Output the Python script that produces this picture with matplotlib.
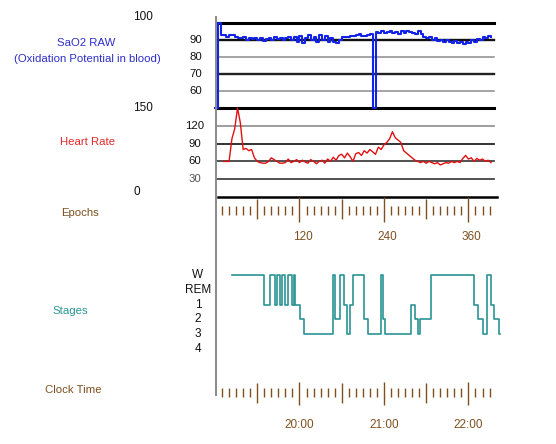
import numpy as np
import matplotlib
matplotlib.use("Agg")
import matplotlib.pyplot as plt
from matplotlib.lines import Line2D
from matplotlib.transforms import offset_copy

# ---------------- data ----------------
sao2_first_epoch = 0
sao2_epoch_step = 4
sao2_values = [50, 100, 93, 93, 92, 93, 93, 92, 91, 91,
               92, 90, 91, 90.5, 91, 90, 91, 89.5, 90.5, 91,
               90, 91.5, 90.5, 91, 90, 91, 91.5, 90, 92, 89,
               92.5, 88.5, 91, 93, 90, 92, 89, 93, 90, 92.5,
               89, 91, 89, 88.5, 90, 91.5, 91.5, 92, 92.5, 92.5,
               93, 93.5, 92.5, 92.5, 93, 93.5, 50, 94.5, 94, 95.5,
               94, 94.5, 95.5, 94, 94.5, 93.5, 95, 94, 95.5, 94.5,
               94, 93.5, 95, 93.5, 92, 91, 92, 90, 91, 89.5,
               90, 89, 90, 89, 88.5, 89.5, 88, 89, 87.5, 89,
               88, 90, 89, 90.5, 90, 91.5, 91, 92.5, 92]

hr_first_epoch = 12
hr_epoch_step = 4
hr_values = [60, 60, 60, 98, 115, 150, 125, 80, 82, 78,
             80, 66, 60, 58, 57, 57, 60, 66, 63, 60,
             57, 57, 58, 64, 58, 60, 63, 58, 62, 59,
             57, 63, 60, 56, 60, 62, 57, 64, 60, 67,
             62, 70, 72, 66, 74, 68, 60, 73, 75, 70,
             78, 74, 80, 76, 72, 84, 80, 88, 92, 98,
             110, 100, 96, 92, 78, 74, 70, 66, 62, 60,
             58, 60, 57, 60, 58, 56, 58, 54, 56, 58,
             57, 60, 58, 60, 58, 65, 70, 64, 66, 60,
             65, 62, 64, 60, 62, 58]

stage_names = ["W", "REM", "1", "2", "3", "4"]
stage_change_epochs = [24, 70, 78, 85, 88, 92, 95, 100, 103, 109,
                       112, 114, 121, 126, 168, 171, 177, 183, 188, 192,
                       196, 212, 217, 236, 239, 242, 279, 284, 289, 291,
                       307, 368, 373, 381, 387, 392, 396, 403]
stage_codes = [0, 2, 0, 2, 0, 2, 0, 2, 0, 2,
               0, 2, 3, 4, 0, 3, 0, 2, 4, 2,
               0, 3, 4, 0, 3, 4, 2, 3, 4, 3,
               0, 2, 3, 4, 0, 2, 3, 4]
stage_last_epoch = 405

sao2_ticks = [90, 80, 70, 60]
hr_ticks = [120, 90, 60, 30]
epoch_labels = [120, 240, 360]
clock_labels = ["20:00", "21:00", "22:00"]

# ---------------- figure ----------------
W, H, DPI = 556, 444, 100
plt.rcParams['font.family'] = ['Liberation Sans', 'DejaVu Sans']
plt.rcParams['font.size'] = 8.2
fig = plt.figure(figsize=(W / DPI, H / DPI), dpi=DPI)
fig.patch.set_facecolor('white')

X0, X1 = 215, 505
EPX = 0.704
XLIM = (0, (X1 - X0) / EPX)


def add_axes(ytop, ybot):
    ax = fig.add_axes([X0 / W, 1 - ybot / H, (X1 - X0) / W, (ybot - ytop) / H])
    ax.set_xlim(*XLIM)
    ax.axis('off')
    return ax


def ftext(x, y, s, **kw):
    kw.setdefault('ha', 'center')
    kw.setdefault('va', 'center')
    fig.text(x / W, 1 - y / H, s, **kw)


def frac(px):
    return (px - X0) / (X1 - X0)


BLUE_T = '#2e2ec8'
RED_T = '#e02828'
BROWN = '#7e5020'
TEAL = '#2a9494'

# left grey vertical rule
fig.add_artist(Line2D([216 / W, 216 / W], [1 - 17 / H, 1 - 395 / H],
                      transform=fig.transFigure, color='#8a8a8a', lw=1.4))

# ---- SaO2 panel ----
ax1 = add_axes(23, 108)
ax1.set_ylim(50, 100)
grid1 = [(100, '#000000', 2.2), (90, '#111111', 1.7), (80, '#8c8c8c', 1.1),
         (70, '#222222', 1.7), (60, '#8c8c8c', 1.1), (50, '#000000', 2.2)]
for yv, c, lw in grid1:
    ax1.axhline(yv, xmin=frac(217), xmax=frac(494), color=c, lw=lw, clip_on=False, zorder=1)
sao2_epochs = sao2_first_epoch + sao2_epoch_step * np.arange(len(sao2_values))
ax1.plot(sao2_epochs, sao2_values, drawstyle='steps-post', color='#1222e6',
         lw=1.5, clip_on=False, zorder=3)
for t in sao2_ticks:
    ax1.text(frac(196), t, str(t), transform=ax1.get_yaxis_transform(),
             ha='center', va='center', color='#111111')

# ---- Heart rate panel ----
ax2 = add_axes(108, 197)
ax2.set_ylim(0, 150)
grid2 = [(120, '#8c8c8c', 1.2), (90, '#222222', 1.3), (60, '#333333', 1.2),
         (30, '#333333', 1.2)]
for yv, c, lw in grid2:
    ax2.axhline(yv, xmin=frac(217), xmax=frac(494), color=c, lw=lw, clip_on=False, zorder=1)
ax2.axhline(0, xmin=frac(218), xmax=frac(497), color='#000000', lw=1.8, clip_on=False)
hr_epochs = hr_first_epoch + hr_epoch_step * np.arange(len(hr_values))
ax2.plot(hr_epochs, hr_values, color='#e01010', lw=1.0, clip_on=False, zorder=3)
for t in hr_ticks:
    ax2.text(frac(195), t, str(t), transform=ax2.get_yaxis_transform(),
             ha='center', va='center', color='#111111' if t != 30 else '#555555')

# ---- tick rulers (epochs and clock time share the epoch scale) ----
minor_ticks = [e for e in range(10, 400, 10) if e % 60 != 0]
medium_ticks = [e for e in range(60, 400, 120)]
major_ticks = [e for e in range(120, 400, 120)]


def ruler(ytop, ybot, major_span, medium_span, minor_span):
    ax = add_axes(ytop, ybot)
    ax.set_ylim(ybot, ytop)
    ax.vlines(minor_ticks, *minor_span, color=BROWN, lw=1.0)
    ax.vlines(medium_ticks, *medium_span, color=BROWN, lw=1.0)
    ax.vlines(major_ticks, *major_span, color=BROWN, lw=1.0)
    return ax


ax_ep = ruler(196, 224, (197, 222), (199, 219), (206, 215))
tr = offset_copy(ax_ep.transData, fig=fig, x=3, y=0, units='dots')
for e in epoch_labels:
    ax_ep.text(e, 223 + 14, str(e), transform=tr, ha='center', va='center',
               color=BROWN, fontsize=8.5)

ax_ck = ruler(380, 408, (382, 405), (383, 403), (388, 397))
for e, lab in zip(epoch_labels, clock_labels):
    ax_ck.text(e, 425, lab, ha='center', va='center', color=BROWN,
               fontsize=8.5, clip_on=False)

# ---- Stages panel ----
ax3 = add_axes(275, 349)
ax3.set_ylim(len(stage_names) - 1, 0)
se = list(stage_change_epochs) + [stage_last_epoch]
sc = list(stage_codes) + [stage_codes[-1]]
ax3.step(se, sc, where='post', color=TEAL, lw=1.2, clip_on=False)
for i, name in enumerate(stage_names):
    ax3.text(frac(198), i, name, transform=ax3.get_yaxis_transform(),
             ha='center', va='center', color='#111111', fontsize=8.5)

# ---- left captions ----
ftext(143, 17, "100", color='#111111', fontsize=8.5)
ftext(143, 108, "150", color='#111111', fontsize=8.5)
ftext(137, 192, "0", color='#111111', fontsize=8.5)
ftext(86, 43, "SaO2 RAW", color=BLUE_T)
ftext(87, 59, "(Oxidation Potential in blood)", color=BLUE_T)
ftext(88, 142, "Heart Rate", color=RED_T)
ftext(80, 213, "Epochs", color=BROWN)
ftext(70, 311, "Stages", color=TEAL)
ftext(73, 390, "Clock Time", color=BROWN)

fig.savefig("out.png", dpi=DPI, facecolor='white')
